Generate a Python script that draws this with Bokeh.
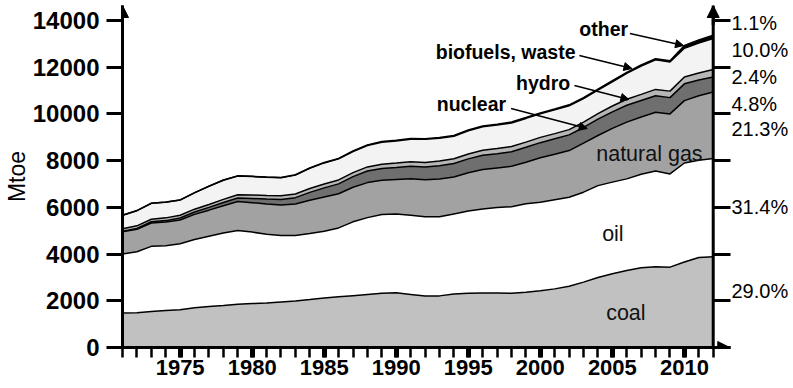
from bokeh.plotting import figure
from bokeh.models import (ColumnDataSource, LinearAxis, FixedTicker, Range1d,
                          Arrow, NormalHead, Label, Span)
from bokeh.embed import file_html
from bokeh.resources import INLINE

# ---------------- data (Mtoe) ----------------
years = list(range(1971, 2013))
coal = [1480, 1490, 1540, 1580, 1620, 1700, 1760, 1800, 1850, 1880,
        1910, 1950, 1990, 2050, 2120, 2170, 2220, 2270, 2320, 2340,
        2270, 2200, 2210, 2290, 2320, 2330, 2330, 2320, 2370, 2430,
        2510, 2620, 2800, 3000, 3160, 3300, 3410, 3460, 3440, 3660,
        3850, 3890]
oil = [2520, 2610, 2790, 2780, 2820, 2920, 3000, 3100, 3160, 3060,
       2940, 2840, 2810, 2830, 2860, 2950, 3160, 3290, 3370, 3380,
       3390, 3400, 3390, 3430, 3520, 3600, 3660, 3710, 3780, 3790,
       3820, 3810, 3850, 3930, 3920, 3920, 4010, 4100, 3990, 4240,
       4170, 4200]
natural_gas = [950, 960, 1000, 1010, 1020, 1080, 1120, 1170, 1240, 1260,
               1290, 1310, 1340, 1420, 1460, 1460, 1480, 1500, 1470, 1470,
               1560, 1580, 1610, 1580, 1640, 1690, 1700, 1730, 1780, 1900,
               1940, 2000, 2100, 2145, 2300, 2430, 2450, 2510, 2570, 2670,
               2760, 2850]
nuclear = [30, 40, 52, 62, 82, 100, 118, 138, 150, 180,
           215, 238, 275, 340, 395, 425, 455, 495, 505, 520,
           545, 550, 570, 580, 595, 610, 605, 620, 640, 650,
           665, 672, 670, 700, 710, 720, 705, 705, 698, 718,
           675, 642]
hydro = [105, 108, 110, 118, 120, 122, 126, 134, 140, 148,
         150, 155, 160, 165, 168, 170, 172, 176, 176, 184,
         190, 190, 200, 202, 212, 215, 220, 222, 224, 226,
         222, 225, 226, 240, 250, 258, 262, 275, 278, 295,
         300, 316]
biofuels_waste = [575, 650, 680, 670, 650, 700, 780, 820, 800, 790,
                  780, 775, 805, 870, 900, 900, 905, 920, 950, 950,
                  961, 992, 983, 964, 990, 1001, 1007, 1013, 1014, 1010,
                  1016, 1022, 1009, 1006, 1037, 1109, 1211, 1264, 1252, 1230,
                  1280, 1325]
other = [5, 5, 5, 6, 6, 7, 7, 8, 9, 10,
         11, 12, 14, 16, 18, 20, 22, 24, 26, 28,
         29, 30, 31, 32, 33, 34, 35, 36, 37, 38,
         39, 40, 41, 42, 43, 44, 45, 46, 48, 120,
         135, 147]

share_2012 = ["29.0%", "31.4%", "21.3%", "4.8%", "2.4%", "10.0%", "1.1%"]
y_ticks = list(range(0, 14001, 2000))
x_major_ticks = list(range(1975, 2011, 5))

# ---------------- layout / style ----------------
FONT = "Liberation Sans"
fill_colors = ["#c1c1c1", "#ffffff", "#a2a2a2", "#6f6f6f", "#b6b6b6",
               "#f3f3f3", "#000000"]
share_label_pos = [2440, 5994, 9376, 10404, 11560, 12716, 13914]

src = ColumnDataSource(dict(year=years, coal=coal, oil=oil, gas=natural_gas,
                            nuclear=nuclear, hydro=hydro,
                            bio=biofuels_waste, other=other))
stackers = ["coal", "oil", "gas", "nuclear", "hydro", "bio", "other"]

p = figure(width=793, height=388, output_backend="svg", toolbar_location=None,
           x_range=Range1d(1971, 2013.2), y_range=Range1d(0, 14642),
           min_border_left=116, min_border_right=63, min_border_top=5,
           min_border_bottom=41)
p.outline_line_color = None
p.grid.visible = False
p.background_fill_color = "white"

p.varea_stack(stackers=stackers, x="year", color=fill_colors, source=src)
p.vline_stack(stackers=stackers, x="year", line_color="black",
              line_width=1.5, source=src)

# left axis
ya = p.yaxis[0]
ya.ticker = FixedTicker(ticks=y_ticks)
ya.axis_line_width = 3
ya.major_tick_out = 16
ya.major_tick_in = 0
ya.major_tick_line_width = 3
ya.minor_tick_out = 0
ya.minor_tick_in = 0
ya.major_label_text_font = FONT
ya.major_label_text_font_style = "bold"
ya.major_label_text_font_size = "24px"
ya.major_label_text_color = "black"
ya.major_label_standoff = 7
ya.axis_label = "Mtoe"
ya.axis_label_text_font = FONT
ya.axis_label_text_font_style = "normal"
ya.axis_label_text_font_size = "23px"
ya.axis_label_text_color = "black"
ya.axis_label_standoff = 0

# bottom axis
xa = p.xaxis[0]
xa.ticker = FixedTicker(ticks=x_major_ticks, minor_ticks=years)
xa.axis_line_width = 3
xa.major_tick_out = 10
xa.major_tick_in = 0
xa.major_tick_line_width = 5
xa.minor_tick_out = 10
xa.minor_tick_in = 0
xa.minor_tick_line_width = 2.5
xa.major_label_text_font = FONT
xa.major_label_text_font_style = "bold"
xa.major_label_text_font_size = "22px"
xa.major_label_text_color = "black"
xa.major_label_standoff = 2

# right axis: 2000-ticks as minor ticks, 2012 shares as labels
ra = LinearAxis(ticker=FixedTicker(ticks=share_label_pos, minor_ticks=y_ticks),
                major_label_overrides=dict(zip(share_label_pos, share_2012)),
                major_tick_out=0, major_tick_in=0,
                minor_tick_in=17, minor_tick_out=0, minor_tick_line_width=3,
                axis_line_color=None, major_label_standoff=1,
                major_label_text_font=FONT, major_label_text_font_size="20px",
                major_label_text_color="black")
p.add_layout(ra, "right")
p.add_layout(Span(location=years[-1], dimension="height", line_color="black",
                  line_width=3))

# axis arrow heads
for xx in (years[0], years[-1]):
    p.add_layout(Arrow(end=NormalHead(size=12, fill_color="black", line_color="black"),
                       x_start=xx, y_start=13800, x_end=xx, y_end=14642,
                       line_width=3, line_color="black"))
p.add_layout(Arrow(end=NormalHead(size=12, fill_color="black", line_color="black"),
                   x_start=2012.2, y_start=0, x_end=2013.15, y_end=0,
                   line_width=3, line_color="black"))

# series labels
bold_labels = [("other", 2002.71, 13615), ("biofuels, waste", 1992.74, 12630),
               ("hydro", 1998.31, 11303), ("nuclear", 1992.81, 10404)]
for t, x, y in bold_labels:
    p.add_layout(Label(x=x, y=y, text=t, text_font=FONT, text_font_size="19.5px",
                       text_font_style="bold", text_baseline="middle",
                       text_align="left", text_color="black"))
plain_labels = [("natural gas", 2003.88, 8263), ("oil", 2004.29, 4838),
                ("coal", 2004.57, 1456)]
for t, x, y in plain_labels:
    p.add_layout(Label(x=x, y=y, text=t, text_font=FONT, text_font_size="21.5px",
                       text_baseline="middle", text_align="left",
                       text_color="#111111"))

pointers = [(2006.22, 13443, 2009.94, 12930),
            (2002.71, 12502, 2006.36, 11945),
            (2002.37, 11217, 2006.15, 10618),
            (1997.97, 10233, 2003.26, 9376)]
for x0, y0, x1, y1 in pointers:
    p.add_layout(Arrow(end=NormalHead(size=8, fill_color="black", line_color="black"),
                       x_start=x0, y_start=y0, x_end=x1, y_end=y1,
                       line_width=1.5, line_color="black"))

open("out.html", "w").write(file_html(p, INLINE))
